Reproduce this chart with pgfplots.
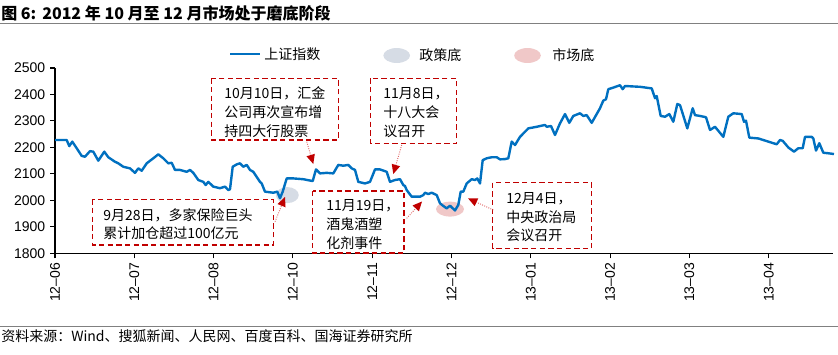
\documentclass[border=0pt]{standalone}
\usepackage{pgfplots}
\pgfplotsset{compat=1.18}
\usepackage{fontspec}
\setmainfont{Liberation Sans}
\newfontfamily\cjk{Noto Sans CJK SC}
\usetikzlibrary{arrows.meta}
\definecolor{lineblue}{HTML}{0070C0}
\definecolor{boxred}{HTML}{C00000}
\definecolor{arrred}{HTML}{E06666}
\definecolor{polgray}{HTML}{D6DCE5}
\definecolor{mktpink}{HTML}{F0C8C8}
\definecolor{rulegray}{HTML}{808080}

\pgfplotstableread{
x v
55 2228
66.7 2228
69.3 2205
72.3 2222
76.7 2197
81.7 2168
85 2165
90 2186
93.3 2184
98.3 2150
104.3 2184
108.3 2163
115 2146
118.3 2140
123.3 2127
130 2121
135 2104
138.3 2121
141.7 2112
146.7 2140
153.3 2159
158.3 2174
163.3 2159
168.3 2140
171.7 2142
175 2115
180 2115
186.7 2108
190 2115
193.3 2104
198.3 2077
203.3 2070
205.7 2058
208.3 2070
213.3 2052
220 2046
225 2052
228.3 2039
230 2042
232.7 2127
236.7 2136
240 2140
243.3 2127
246.7 2134
250 2115
253.3 2108
260 2070
261.7 2064
265 2033
273.3 2029
277.3 2033
280 2008
282.7 2033
286.7 2083
293.3 2083
303.3 2080
312.7 2073
316 2117
320 2102
326.7 2104
333.3 2102
338.3 2134
343.3 2131
348.3 2134
351.7 2121
355 2115
358.3 2070
365 2064
370 2070
375 2117
380 2117
386.7 2108
390 2070
395 2077
400 2080
403.3 2058
405 2054
406.7 2039
411.7 2014
420 2014
423.3 2020
425 2029
428.3 2024
431.7 2029
436.7 2020
440 1989
443.3 1979
446.7 1970
450 1980
455 1962
458.3 1983
460.7 2033
463.3 2033
466.7 2064
471.7 2080
475 2077
477.3 2083
480 2064
482.7 2152
486.7 2159
491.7 2163
496.7 2163
500 2155
505 2156
508.3 2159
511.7 2222
515 2209
520 2240
528.3 2272
536.7 2278
545 2285
546.7 2278
551 2281
555 2247
560 2291
565 2326
569.3 2293
573.3 2319
580 2329
583.3 2319
586.7 2322
591.7 2293
600 2348
603.3 2377
606 2382
608.3 2420
613.3 2426
620 2435
622.7 2420
625 2432
640 2429
651.7 2423
655 2386
656.7 2394
660.7 2319
665 2316
669.3 2326
673.3 2297
677.3 2364
680 2360
687.3 2272
692.7 2348
695 2322
700 2319
706 2314
710 2266
715 2278
723.3 2240
728.3 2316
733.3 2329
741.7 2326
744 2297
746 2301
749.3 2237
758.3 2234
773.3 2216
776.7 2212
780 2228
782.7 2225
788.3 2200
794 2184
798.3 2197
802.7 2197
805 2240
811.7 2240
813.3 2234
816 2188
819.3 2216
823.3 2180
828.3 2178
834 2175
}\sse

\begin{document}
\begin{tikzpicture}
\useasboundingbox (0,0) rectangle (628.5pt,-265.5pt);
\begin{axis}[
  at={(41.25pt,-190pt)}, anchor=south west,
  scale only axis, width=583.5pt, height=139pt,
  xmin=55, xmax=833, ymin=1800, ymax=2500,
  axis lines*=left,
  xtick={55,134.3,213.6,292.9,372.2,451.5,530.8,610.1,689.4,768.7},
  xticklabels={12--06,12--07,12--08,12--10,12--11,12--12,13--01,13--02,13--03,13--04},
  x tick label style={rotate=90, anchor=east, font=\fontsize{10.5}{12}\selectfont},
  ytick={1800,1900,2000,2100,2200,2300,2400,2500},
  y tick label style={font=\fontsize{10.5}{12}\selectfont},
  /pgf/number format/assume math mode=true,
  /pgf/number format/1000 sep={},
  tick align=outside, major tick length=3.75pt,
  tick style={black, line width=0.8pt},
  axis line style={black, line width=1pt},
  clip=false,
]
\fill[polgray] (axis cs:287.3,2020) ellipse [x radius=8.6pt, y radius=6pt];
\fill[mktpink] (axis cs:450,1967) ellipse [x radius=10.5pt, y radius=5.6pt];
\addplot[lineblue, line width=1.8pt, line join=round, mark=none] table[x=x, y=v] {\sse};
\end{axis}

\begin{scope}[x=0.75pt, y=-0.75pt]
% title
\node[anchor=base west, inner sep=0] at (1,19) {\cjk\bfseries\fontsize{12}{14}\selectfont 图 6:};
\node[anchor=base west, inner sep=0] at (42,19) {\cjk\bfseries\fontsize{12}{14}\selectfont 2012 年 10 月至 12 月市场处于磨底阶段};
\draw[rulegray, line width=1.2pt] (0,23.5) -- (838,23.5);
% legend
\draw[lineblue, line width=1.8pt] (230,54) -- (260,54);
\node[anchor=west, inner sep=0] at (264,54) {\cjk\fontsize{10.5}{12}\selectfont 上证指数};
\fill[polgray] (396.7,55.5) ellipse [x radius=10pt, y radius=5.6pt];
\node[anchor=west, inner sep=0] at (419,55) {\cjk\fontsize{10.5}{12}\selectfont 政策底};
\fill[mktpink] (527.5,55.5) ellipse [x radius=10pt, y radius=5.6pt];
\node[anchor=west, inner sep=0] at (552,55) {\cjk\fontsize{10.5}{12}\selectfont 市场底};
% boxes
\tikzset{bx/.style={boxred, line width=1.1pt, dash pattern=on 4pt off 2.5pt},
         tx/.style={anchor=west, inner sep=0, font=\cjk\fontsize{10.5}{12}\selectfont},
         ar/.style={arrred, line width=0.7pt, densely dotted, -{Triangle[length=7pt, width=6.5pt, color=boxred, fill=boxred, line width=0pt]}}}
\draw[bx] (211.7,78.3) rectangle (338.3,140);
\node[tx] at (224,93.3) {10月10日，汇金};
\node[tx] at (224,112) {公司再次宣布增};
\node[tx] at (224,131) {持四大行股票};
\draw[bx] (370.7,78.3) rectangle (456.7,143.3);
\node[tx] at (383,93.3) {11月8日，};
\node[tx] at (383,112) {十八大会};
\node[tx] at (383,131) {议召开};
\draw[bx] (92.7,199.3) rectangle (273.3,245);
\node[tx] at (103,215) {9月28日，多家保险巨头};
\node[tx] at (103,233.3) {累计加仓超过100亿元};
\draw[bx] (312.7,191) rectangle (404,253);
\node[tx] at (326,206) {11月19日，};
\node[tx] at (326,224.3) {酒鬼酒塑};
\node[tx] at (326,242.7) {化剂事件};
\draw[bx] (492.7,182.7) rectangle (591.7,248.3);
\node[tx] at (506,198.3) {12月4日，};
\node[tx] at (506,216.7) {中央政治局};
\node[tx] at (506,235) {会议召开};
% arrows
\draw[ar] (306.7,141.7) -- (313.3,164);
\draw[ar] (401.7,145) -- (393.3,174);
\draw[ar] (275,221.7) -- (285,197);
\draw[ar] (406.7,218.3) -- (422,201.5);
\draw[ar] (493.3,210) -- (468,198.3);
% source
\draw[rulegray, line width=1pt] (0,326.5) -- (838,326.5);
\node[anchor=base west, inner sep=0] at (1,341) {\cjk\fontsize{10.5}{12}\selectfont 资料来源：Wind、搜狐新闻、人民网、百度百科、国海证券研究所};
\end{scope}
\end{tikzpicture}
\end{document}
